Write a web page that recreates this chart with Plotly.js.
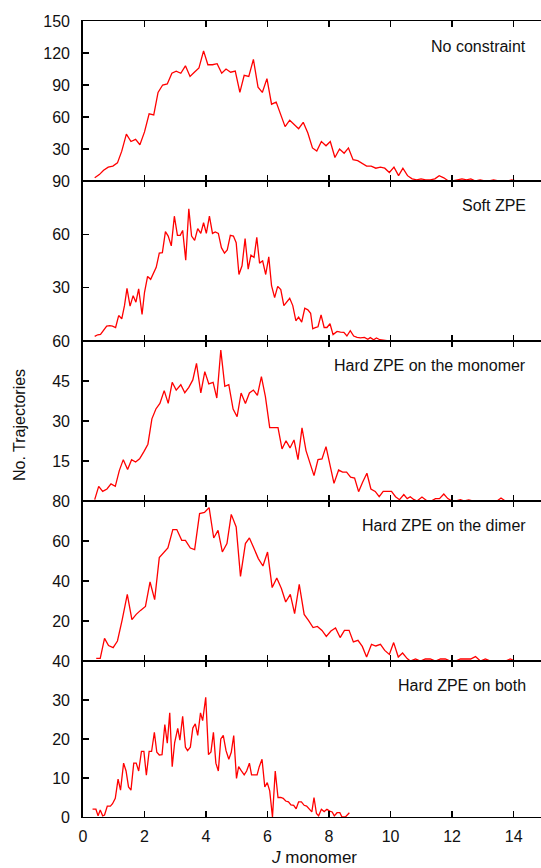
<!DOCTYPE html>
<html>
<head>
<meta charset="utf-8">
<script src="https://cdn.plot.ly/plotly-3.0.1.min.js"></script>
<style>
  html, body { margin: 0; padding: 0; background: #ffffff; }
  #chart { width: 541px; height: 868px; }
</style>
</head>
<body>
<div id="chart"></div>
<script>
// ---- Data ----
var panelLabels = ["No constraint", "Soft ZPE", "Hard ZPE on the monomer", "Hard ZPE on the dimer", "Hard ZPE on both"];

var xNoConstraint = [0.38,0.53,0.67,0.82,0.97,1.12,1.26,1.41,1.56,1.71,1.85,2.00,2.15,2.30,2.44,2.59,2.74,2.89,3.03,3.18,
  3.33,3.48,3.62,3.77,3.92,4.06,4.21,4.36,4.51,4.65,4.80,4.95,5.10,5.24,5.39,5.54,5.69,5.83,5.98,6.13,
  6.28,6.42,6.57,6.72,6.87,7.01,7.16,7.31,7.46,7.60,7.75,7.90,8.04,8.19,8.34,8.49,8.63,8.78,8.93,9.08,
  9.22,9.37,9.52,9.67,9.81,9.96,10.11,10.26,10.40,10.55,10.70,10.85,10.99,11.14,11.29,11.44,11.58,11.73,11.88,12.02,
  12.17,12.32,12.47,12.61,12.76,12.91,13.06,13.20,13.35,13.50,13.65,13.79,13.94,14.09];
var yNoConstraint = [3,6,10,13,14,17,28,44,37,39,34,46,63,62,83,90,91,101,103,101,
  108,98,102,106,122,109,109,110,101,105,102,103,83,99,98,114,88,83,96,72,
  74,62,51,57,53,49,55,45,31,28,37,33,37,22,30,26,31,20,19,16,
  14,14,12,13,12,8,13,5,12,5,2,1,2,1,1,2,5,3,0,0,
  1,2,1,2,0,1,0,0,1,0,0,0,1,0];

var xSoft = [0.38,0.48,0.57,0.67,0.77,0.87,0.96,1.06,1.16,1.26,1.35,1.43,1.53,1.63,1.72,1.81,1.92,2.00,2.10,2.20,
  2.30,2.38,2.48,2.58,2.68,2.77,2.87,2.97,3.07,3.16,3.24,3.34,3.44,3.53,3.63,3.73,3.83,3.92,4.01,4.11,
  4.21,4.30,4.40,4.50,4.60,4.69,4.79,4.89,4.98,5.07,5.17,5.27,5.37,5.46,5.56,5.65,5.74,5.84,5.94,6.04,
  6.13,6.23,6.33,6.43,6.53,6.62,6.72,6.82,6.92,7.01,7.11,7.21,7.31,7.40,7.47,7.55,7.64,7.74,7.84,7.93,
  8.03,8.13,8.26,8.37,8.48,8.58,8.69,8.80,8.91,9.02,9.15,9.26,9.34,9.45,9.54,9.65,9.78,9.94];
var ySoft = [2.6,3.5,3.7,6,8.4,8.6,8.4,7.6,14.3,12.5,20,29.6,19.6,25.5,21.8,29.3,14.9,27.4,36.3,34.7,
  38.9,41.4,49.4,49.7,61.5,59,53.5,70.2,59.4,59.4,62.2,45.5,74.3,59,56.6,63.2,60.5,66.5,60.5,70.2,
  60.5,61.3,60.5,52.5,49.4,51.2,59.4,59,55.3,37.4,42.3,57.6,40.4,48.3,47,58.3,43.8,45.1,37.4,47.3,
  31.1,24.4,30.7,28.9,19.9,21.8,24,19.9,11.4,13.4,10.6,18.4,17.5,15.6,6.9,7.5,8,14.7,7.6,7.6,
  9.7,3.6,5.4,5,4.9,2.8,5.8,2.8,2,1.7,2,1,1.9,0.7,1.7,0.7,0.5,0];

var xMonomer = [0.38,0.51,0.64,0.78,0.91,1.05,1.18,1.31,1.45,1.58,1.71,1.84,1.98,2.11,2.24,2.37,2.50,2.64,2.77,2.90,
  3.03,3.18,3.31,3.44,3.57,3.69,3.83,3.96,4.09,4.23,4.35,4.48,4.61,4.74,4.88,5.01,5.14,5.28,5.41,5.54,
  5.67,5.80,5.93,6.07,6.20,6.34,6.47,6.60,6.73,6.86,6.99,7.12,7.25,7.38,7.51,7.64,7.77,7.90,8.03,8.16,
  8.31,8.44,8.57,8.70,8.83,8.96,9.09,9.23,9.36,9.50,9.63,9.76,9.89,10.03,10.16,10.29,10.43,10.54,10.64,10.75,
  10.86,11.02,11.19,11.32,11.46,11.59,11.73,11.86,12.00,12.13,12.27,12.40,12.54,12.67,12.80,12.93,13.07,13.20,13.33,13.46,
  13.59,13.73];
var yMonomer = [0.5,5.5,3.6,4.5,6.4,5.5,11.4,15.5,11.8,15.5,14.6,15.8,18.5,21.3,30.8,34.5,36.6,41.4,36.6,44.5,
  41.6,43.6,40.6,42.6,45.4,51.6,40.5,48.5,43.9,44.5,38.6,56.6,43,43.6,34.5,31.6,40.5,36.6,40.5,41.6,
  39.6,46.6,39.1,27.5,27.5,27.5,19.5,22.6,19.9,22.9,15.5,27.4,18.9,13.9,9.5,15.5,15.8,20.4,13.9,6.6,
  11.6,10.8,10.8,8.9,8.6,3.5,7,10.4,4.5,3.6,1.6,3.6,3.6,3.6,1.6,0.5,2.4,0.9,1.6,0.6,
  0,1.5,0,0,0.9,0.9,2.6,0.9,0,0,0.5,0,0.4,0,0,0,0,0,0,0,
  1.1,0];

var xDimer = [0.43,0.56,0.70,0.83,0.98,1.12,1.27,1.44,1.59,1.73,1.87,2.03,2.18,2.33,2.48,2.63,2.76,2.92,3.05,3.21,
  3.33,3.49,3.63,3.79,3.95,4.10,4.25,4.39,4.53,4.68,4.82,4.98,5.12,5.28,5.41,5.56,5.70,5.85,6.00,6.15,
  6.30,6.45,6.59,6.74,6.88,7.03,7.19,7.33,7.48,7.62,7.77,7.91,8.06,8.21,8.36,8.50,8.65,8.79,8.94,9.08,
  9.22,9.38,9.52,9.67,9.81,9.96,10.10,10.25,10.39,10.54,10.64,10.81,10.97,11.13,11.29,11.46,11.62,11.78,11.94,12.11,
  12.27,12.43,12.60,12.76,12.92,13.08,13.25,13.41,13.57,13.73,13.89,14.06];
var yDimer = [1.3,1.3,11.3,7.7,6.7,10,20.3,33.3,20.7,23.3,25.3,27.3,39.5,30.7,51.7,54.5,56.5,65.7,65.7,60.3,
  60.3,56.5,55.7,73.7,74.3,76.7,61.5,65.3,54.5,58.7,73.3,67,42.3,58.7,61.5,56.2,51.2,47.5,54.5,36.7,
  41.5,36.2,29.5,33.3,23.7,38.3,23.3,20.3,16.7,17.3,15.3,12.3,15,16.5,11.7,15.3,15.3,9.5,10.3,7.3,
  2,8.3,7.5,8.3,5.3,3.3,9.2,2,4,1.2,0,1,0,1,1,0,1,1,0,0,
  1,1,1,2.2,0,1,0,0,0,0,1,0];

var xBoth = [0.31,0.42,0.49,0.56,0.64,0.70,0.79,0.89,0.96,1.05,1.14,1.22,1.32,1.40,1.48,1.56,1.65,1.73,1.81,1.90,
  1.98,2.06,2.15,2.23,2.32,2.40,2.48,2.57,2.66,2.74,2.82,2.90,2.98,3.08,3.15,3.24,3.33,3.40,3.49,3.57,
  3.65,3.73,3.82,3.89,3.99,4.08,4.16,4.24,4.32,4.40,4.48,4.56,4.65,4.74,4.82,4.90,4.99,5.06,5.15,5.24,
  5.32,5.41,5.48,5.57,5.66,5.73,5.82,5.91,5.99,6.07,6.16,6.25,6.34,6.43,6.51,6.59,6.68,6.76,6.85,6.93,
  7.01,7.10,7.19,7.27,7.36,7.44,7.51,7.59,7.66,7.75,7.84,7.93,8.02,8.10,8.17,8.26,8.35,8.42,8.53,8.66];
var yBoth = [2,2,0.3,1.8,0.3,0.5,2.8,2.8,3.4,4.8,9.7,6.9,13.8,11.8,7.7,6.9,13.8,13.8,11.8,16.8,
  16.8,10.7,16.8,16.8,21.7,16.6,15.9,16,23.7,18.9,26.7,12.9,19.1,22.7,19.7,25.8,17.9,17,17.9,22.8,
  23.9,20.9,26.7,24.7,30.7,16,16.7,21.7,13.8,11.8,20,20.9,17,14.8,16.6,20.9,9.9,12.9,11.8,10.8,
  11.8,13.8,10.8,10.8,10.8,12.9,14.8,7.7,8.8,6.7,0,11.8,5,5,4.8,4.1,3.9,3.1,3,2.1,
  3.9,3.9,3,2.8,2.1,1.3,5,0.9,0.3,2,1.4,2,1.5,1.3,0.3,1.1,1.1,0,0,1.1];

var xTickVals = [0,2,4,6,8,10,12,14];
var yTickVals = [[30,60,90,120,150],[30,60,90],[15,30,45,60],[20,40,60,80],[0,10,20,30,40]];
var yRanges = [[0,150],[0,90],[0,60],[0,80],[0,40]];
var xRange = [0,14.89];

// ---- Build figure ----
var xs = [xNoConstraint, xSoft, xMonomer, xDimer, xBoth];
var ys = [yNoConstraint, ySoft, yMonomer, yDimer, yBoth];
var domains = [[0.799,1],[0.598,0.799],[0.397,0.598],[0.196,0.397],[0,0.196]];
var fontFam = '"Liberation Sans", Arial, Helvetica, sans-serif';

var traces = [];
var layout = {
  width: 541, height: 868,
  margin: {l: 83, r: 0, t: 21, b: 51},
  paper_bgcolor: '#ffffff', plot_bgcolor: '#ffffff',
  showlegend: false,
  font: {family: fontFam, size: 16, color: '#111111'},
  annotations: []
};

for (var i = 0; i < 5; i++) {
  var n = i === 0 ? '' : String(i + 1);
  traces.push({
    type: 'scatter', mode: 'lines',
    x: xs[i], y: ys[i],
    xaxis: 'x' + n, yaxis: 'y' + n,
    line: {color: '#ff0000', width: 1.3},
    hoverinfo: 'skip'
  });
  layout['xaxis' + n] = {
    domain: [0, 1], anchor: 'y' + n,
    range: xRange, matches: i === 0 ? undefined : 'x',
    tickmode: 'array', tickvals: xTickVals,
    ticks: 'inside', ticklen: 6, tickwidth: 1.5, tickcolor: '#000',
    showline: true, linecolor: '#000', linewidth: 1.3, mirror: 'ticks',
    showgrid: false, zeroline: false,
    showticklabels: i === 4,
    ticklabelstandoff: 4,
    tickfont: {family: fontFam, size: 16, color: '#111'},
    layer: 'above traces'
  };
  layout['yaxis' + n] = {
    domain: domains[i], anchor: 'x' + n,
    range: yRanges[i],
    tickmode: 'array', tickvals: yTickVals[i],
    ticks: 'inside', ticklen: 6, tickwidth: 1.5, tickcolor: '#000',
    showline: true, linecolor: '#000', linewidth: 1.8, mirror: false,
    showgrid: false, zeroline: false,
    ticklabelstandoff: 8,
    tickfont: {family: fontFam, size: 16, color: '#111'},
    layer: 'above traces'
  };
  layout.annotations.push({
    text: panelLabels[i], showarrow: false,
    xref: 'paper', x: 1, xanchor: 'right', xshift: -13,
    yref: 'y' + n + ' domain', y: 1, yanchor: 'middle', yshift: -25,
    font: {family: fontFam, size: 16, color: '#111'}
  });
}

// axis titles
layout.annotations.push({
  text: 'No. Trajectories', showarrow: false, textangle: -90,
  xref: 'paper', x: -0.1376, xanchor: 'center',
  yref: 'paper', y: 0.4925, yanchor: 'middle',
  font: {family: fontFam, size: 16, color: '#111'}
});
layout.annotations.push({
  text: '<i>J</i> monomer', showarrow: false,
  xref: 'paper', x: 0.504, xanchor: 'center',
  yref: 'paper', y: -0.0515, yanchor: 'middle',
  font: {family: fontFam, size: 17, color: '#111'}
});

Plotly.newPlot('chart', traces, layout, {displayModeBar: false, staticPlot: true});
</script>
</body>
</html>
